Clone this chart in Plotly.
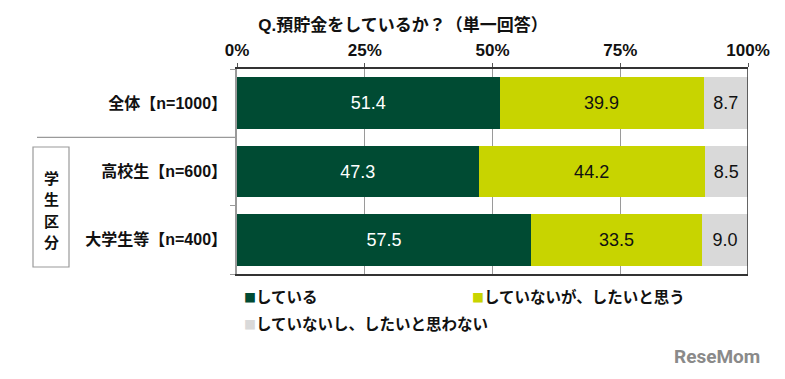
import plotly.graph_objects as go

categories = ["全体【n=1000】", "高校生【n=600】", "大学生等【n=400】"]
series_names = ["している", "していないが、したいと思う", "していないし、したいと思わない"]
doing = [51.4, 47.3, 57.5]
want = [39.9, 44.2, 33.5]
not_want = [8.7, 8.5, 9.0]
tick_vals = [0, 25, 50, 75, 100]
tick_text = ["0%", "25%", "50%", "75%", "100%"]
group_label = ["学", "生", "区", "分"]
colors = ["#004B33", "#C8D400", "#D9D9D9"]
text_colors = ["white", "#111111", "#111111"]

W, H = 785, 379
L, R, T, B = 237, 37, 69, 105
pw = W - L - R
ph = H - T - B

FONT = "Liberation Sans, Noto Sans CJK JP, sans-serif"
JFONT = "Noto Sans CJK JP, sans-serif"

fig = go.Figure()
for name, vals, c, tc in zip(series_names, [doing, want, not_want], colors, text_colors):
    fig.add_trace(go.Bar(
        y=categories, x=vals, name=name, orientation="h",
        marker=dict(color=c, line=dict(width=0)),
        text=[f"{v:.1f}" for v in vals], textposition="inside",
        insidetextanchor="middle", textangle=0,
        textfont=dict(color=tc, size=18, family=FONT),
        showlegend=False,
    ))

fig.update_layout(
    width=W, height=H, barmode="stack", bargap=0.24,
    margin=dict(l=L, r=R, t=T, b=B, autoexpand=False),
    plot_bgcolor="white", paper_bgcolor="white",
    font=dict(family=JFONT, color="#111111"),
    title=dict(text="<b>Q.預貯金をしているか？（単一回答）</b>", x=403 / W, xanchor="center",
               y=1 - 25 / H, yanchor="middle", font=dict(size=17, family=FONT, color="#111111")),
)
fig.update_xaxes(
    range=[0, 100], side="top", tickvals=tick_vals, ticktext=[f"<b>{t}</b>" for t in tick_text],
    tickfont=dict(size=17, family=FONT, color="#111111"),
    showgrid=True, gridcolor="#9A9A9A", gridwidth=1,
    showline=True, linecolor="#333333", linewidth=1.5, mirror=True,
    ticks="outside", ticklen=4, tickcolor="#555555", zeroline=False, automargin=False,
)
fig.update_yaxes(
    autorange="reversed",
    tickvals=categories, ticktext=[f"<b>{c}</b>" for c in categories],
    tickfont=dict(size=16, family=FONT, color="#111111"),
    showline=True, linecolor="#9A9A9A", linewidth=1.5,
    ticks="outside", tickson="boundaries", ticklen=5, tickcolor="#9A9A9A",
    ticklabelstandoff=5, showgrid=False, automargin=False,
)

# right border
fig.add_shape(type="line", xref="x", yref="paper", x0=100, x1=100, y0=0, y1=1,
              line=dict(color="#333333", width=1.5))
# separator line between groups
fig.add_shape(type="line", xref="paper", yref="y", x0=(37 - L) / pw, x1=0, y0=0.5, y1=0.5,
              line=dict(color="#9A9A9A", width=1.2))
# group box
fig.add_shape(type="rect", xref="paper", yref="paper",
              x0=(33 - L) / pw, x1=(69 - L) / pw,
              y0=1 - (267 - T) / ph, y1=1 - (147 - T) / ph,
              line=dict(color="#9A9A9A", width=1.2), fillcolor="white")
for i, ch in enumerate(group_label):
    py = 177 + 21.5 * i
    fig.add_annotation(xref="paper", yref="paper", x=(51 - L) / pw, y=1 - (py - T) / ph,
                       xanchor="center", yanchor="middle",
                       text=f"<b>{ch}</b>", showarrow=False, borderpad=0,
                       font=dict(size=15, family=JFONT, color="#111111"))

# legend as annotations
leg_pos = [(242, 296), (470, 296), (242, 323)]
for name, c, (px, py) in zip(series_names, colors, leg_pos):
    fig.add_annotation(xref="paper", yref="paper", x=(px - L) / pw, y=1 - (py - T) / ph,
                       xanchor="left", yanchor="middle", showarrow=False,
                       text=f"<span style='color:{c};font-size:12px'>■</span><b>{name}</b>",
                       font=dict(size=15.5, family=JFONT, color="#111111"))

# watermark
fig.add_annotation(xref="paper", yref="paper", x=(762 - L) / pw, y=1 - (356 - T) / ph,
                   xanchor="right", yanchor="middle", showarrow=False,
                   text="<b>ReseMom</b>", font=dict(size=19, family="Liberation Sans Narrow, Roboto, sans-serif", color="#8A8A8A"))

fig.write_html("out.html", config={"displayModeBar": False},
               post_script="document.body.style.margin='0';document.body.style.padding='0';")
